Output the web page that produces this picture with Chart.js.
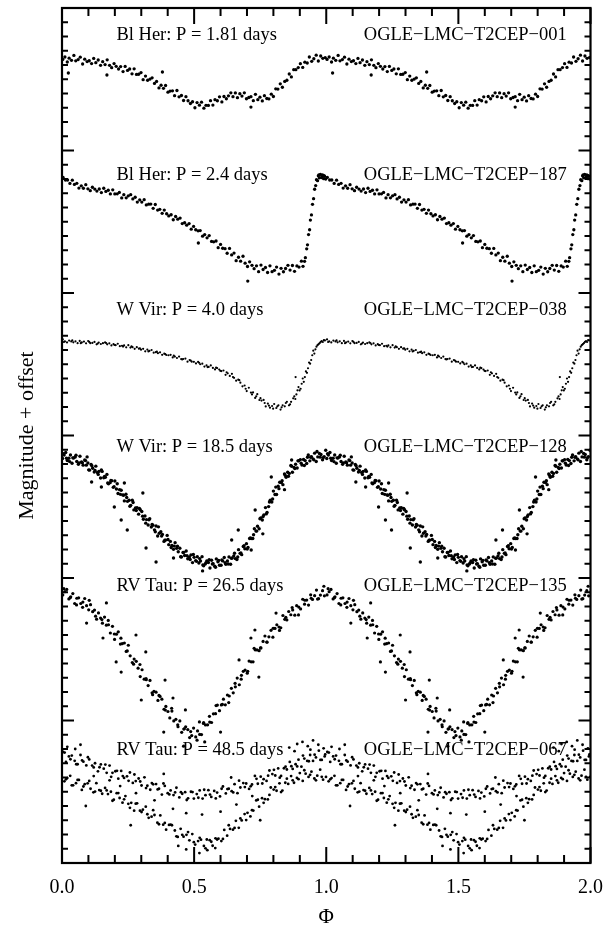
<!DOCTYPE html>
<html>
<head>
<meta charset="utf-8">
<title>OGLE LMC type II Cepheids</title>
<script src="https://cdn.jsdelivr.net/npm/chart.js@4.4.1/dist/chart.umd.min.js"></script>
<style>
  html, body { margin: 0; padding: 0; background: #fff; }
  canvas { display: block; }
</style>
</head>
<body>
<canvas id="lcChart" width="616" height="925"></canvas>
<script>
// phase-folded light curves: [phase, magnitude + offset]
const obs001 = [[0.003,0.361],[0.011,0.344],[0.020,0.379],[0.027,0.352],[0.036,0.367],[0.045,0.333],[0.052,0.371],[0.061,0.362],[0.069,0.345],[0.078,0.393],
  [0.086,0.359],[0.095,0.376],[0.103,0.370],[0.112,0.390],[0.120,0.354],[0.128,0.384],[0.137,0.365],[0.146,0.402],[0.154,0.377],[0.163,0.397],
  [0.171,0.364],[0.180,0.402],[0.188,0.419],[0.197,0.390],[0.205,0.409],[0.214,0.428],[0.222,0.411],[0.231,0.446],[0.239,0.410],[0.248,0.438],
  [0.256,0.428],[0.265,0.462],[0.273,0.427],[0.282,0.466],[0.290,0.465],[0.299,0.453],[0.307,0.503],[0.316,0.478],[0.324,0.507],[0.333,0.499],
  [0.341,0.490],[0.350,0.529],[0.358,0.515],[0.367,0.561],[0.375,0.542],[0.384,0.564],[0.392,0.544],[0.401,0.591],[0.409,0.583],[0.418,0.581],
  [0.426,0.615],[0.435,0.579],[0.443,0.623],[0.452,0.614],[0.460,0.649],[0.469,0.622],[0.477,0.651],[0.486,0.670],[0.494,0.658],[0.503,0.700],
  [0.511,0.664],[0.520,0.682],[0.528,0.661],[0.537,0.703],[0.545,0.683],[0.554,0.684],[0.562,0.650],[0.571,0.681],[0.579,0.643],[0.588,0.651],
  [0.596,0.623],[0.605,0.659],[0.613,0.621],[0.622,0.637],[0.630,0.616],[0.639,0.595],[0.647,0.622],[0.656,0.596],[0.664,0.629],[0.673,0.601],
  [0.681,0.618],[0.690,0.595],[0.698,0.637],[0.707,0.628],[0.715,0.622],[0.724,0.650],[0.732,0.606],[0.741,0.643],[0.749,0.626],[0.758,0.652],
  [0.766,0.615],[0.775,0.635],[0.783,0.638],[0.792,0.605],[0.800,0.621],[0.809,0.567],[0.817,0.569],[0.826,0.532],[0.834,0.556],[0.843,0.515],
  [0.851,0.507],[0.860,0.463],[0.868,0.484],[0.877,0.433],[0.885,0.433],[0.894,0.418],[0.902,0.391],[0.911,0.417],[0.919,0.380],[0.928,0.386],
  [0.936,0.344],[0.945,0.374],[0.953,0.356],[0.962,0.331],[0.970,0.372],[0.979,0.337],[0.987,0.353],[0.996,0.348],
  [0.024,0.456],[0.170,0.470],[0.380,0.449],[0.715,0.695]];

const obs187 = [[0.004,1.189],[0.013,1.207],[0.021,1.207],[0.030,1.231],[0.039,1.208],[0.047,1.238],[0.056,1.230],[0.064,1.264],[0.073,1.248],[0.081,1.265],
  [0.090,1.240],[0.098,1.269],[0.107,1.282],[0.115,1.258],[0.124,1.271],[0.132,1.285],[0.141,1.270],[0.149,1.295],[0.158,1.265],[0.166,1.287],
  [0.175,1.279],[0.183,1.305],[0.192,1.276],[0.200,1.305],[0.209,1.304],[0.217,1.294],[0.226,1.333],[0.234,1.310],[0.243,1.332],[0.251,1.318],
  [0.260,1.310],[0.268,1.340],[0.277,1.328],[0.285,1.362],[0.294,1.346],[0.302,1.362],[0.311,1.345],[0.319,1.382],[0.328,1.377],[0.336,1.376],
  [0.345,1.406],[0.353,1.379],[0.362,1.418],[0.370,1.413],[0.379,1.441],[0.387,1.418],[0.396,1.444],[0.404,1.459],[0.413,1.451],[0.421,1.486],
  [0.430,1.463],[0.438,1.482],[0.447,1.474],[0.455,1.513],[0.464,1.507],[0.472,1.524],[0.481,1.513],[0.489,1.552],[0.498,1.533],[0.506,1.556],
  [0.515,1.564],[0.523,1.562],[0.532,1.601],[0.540,1.590],[0.549,1.613],[0.557,1.597],[0.566,1.638],[0.574,1.641],[0.583,1.635],[0.591,1.682],
  [0.600,1.659],[0.608,1.686],[0.617,1.689],[0.625,1.721],[0.634,1.687],[0.642,1.733],[0.651,1.720],[0.659,1.773],[0.668,1.749],[0.676,1.777],
  [0.685,1.742],[0.693,1.791],[0.702,1.814],[0.710,1.781],[0.719,1.806],[0.727,1.829],[0.736,1.809],[0.744,1.850],[0.753,1.804],[0.761,1.835],
  [0.770,1.821],[0.778,1.856],[0.787,1.809],[0.795,1.850],[0.804,1.841],[0.812,1.818],[0.821,1.867],[0.829,1.827],[0.838,1.851],[0.846,1.828],
  [0.855,1.806],[0.863,1.839],[0.872,1.807],[0.880,1.848],[0.889,1.810],[0.897,1.818],[0.906,1.777],[0.912,1.813],
  [0.918,1.778],[0.921,1.752],[0.926,1.690],[0.929,1.662],[0.933,1.590],[0.937,1.556],[0.940,1.488],[0.944,1.452],[0.948,1.378],[0.952,1.338],
  [0.956,1.272],[0.960,1.246],[0.963,1.205],[0.967,1.212],[0.970,1.178],[0.974,1.192],[0.978,1.168],[0.982,1.190],[0.986,1.172],[0.990,1.198],
  [0.994,1.181],[0.998,1.200],[0.703,1.916],[0.516,1.649],[0.972,1.172],[0.984,1.185],[0.992,1.176]];

const obs038 = [[0.003,2.326],[0.011,2.340],[0.019,2.347],[0.027,2.334],[0.035,2.340],[0.043,2.346],[0.051,2.339],[0.059,2.352],[0.067,2.336],[0.075,2.347],
  [0.083,2.341],[0.091,2.353],[0.099,2.337],[0.107,2.352],[0.115,2.350],[0.123,2.343],[0.131,2.360],[0.139,2.348],[0.147,2.358],[0.155,2.352],
  [0.163,2.347],[0.171,2.360],[0.179,2.353],[0.187,2.368],[0.195,2.359],[0.203,2.366],[0.211,2.356],[0.219,2.373],[0.227,2.370],[0.235,2.368],
  [0.243,2.381],[0.251,2.366],[0.259,2.383],[0.267,2.380],[0.275,2.392],[0.283,2.380],[0.291,2.391],[0.299,2.398],[0.307,2.392],[0.315,2.409],
  [0.323,2.397],[0.331,2.406],[0.339,2.400],[0.347,2.419],[0.355,2.415],[0.363,2.422],[0.371,2.416],[0.379,2.434],[0.387,2.426],[0.395,2.435],
  [0.403,2.437],[0.411,2.434],[0.419,2.452],[0.427,2.446],[0.435,2.456],[0.443,2.446],[0.451,2.464],[0.459,2.463],[0.467,2.460],[0.475,2.482],
  [0.483,2.471],[0.491,2.482],[0.499,2.483],[0.507,2.494],[0.515,2.484],[0.523,2.500],[0.531,2.496],[0.539,2.516],[0.547,2.508],[0.555,2.519],
  [0.563,2.508],[0.571,2.526],[0.579,2.536],[0.587,2.527],[0.595,2.537],[0.603,2.548],[0.611,2.544],[0.619,2.574],[0.627,2.564],[0.635,2.582],
  [0.643,2.567],[0.651,2.595],[0.659,2.615],[0.667,2.608],[0.675,2.629],[0.683,2.655],[0.691,2.649],[0.699,2.688],[0.707,2.665],[0.715,2.699],
  [0.723,2.698],[0.731,2.736],[0.739,2.710],[0.747,2.751],[0.755,2.755],[0.763,2.750],[0.771,2.796],[0.779,2.776],[0.787,2.805],[0.795,2.793],
  [0.803,2.779],[0.811,2.807],[0.819,2.788],[0.827,2.818],[0.835,2.788],[0.843,2.795],[0.851,2.764],[0.859,2.788],[0.867,2.764],[0.875,2.739],
  [0.883,2.744],[0.891,2.683],[0.899,2.684],[0.907,2.637],[0.915,2.623],[0.923,2.550],[0.931,2.528],[0.939,2.496],[0.947,2.437],[0.955,2.425],
  [0.963,2.377],[0.971,2.359],[0.979,2.343],[0.987,2.344],[0.995,2.333],
  [0.623,2.556],[0.647,2.590],[0.671,2.612],[0.695,2.672],[0.719,2.712],[0.735,2.725],[0.751,2.738],[0.767,2.772],[0.783,2.790],[0.799,2.812],
  [0.815,2.795],[0.831,2.802],[0.847,2.772],[0.863,2.781],[0.879,2.726],[0.887,2.712],[0.895,2.660],[0.903,2.672],[0.911,2.600],[0.919,2.590],
  [0.927,2.560],[0.935,2.488],[0.943,2.470],[0.951,2.405],[0.959,2.395],[0.967,2.366],[0.975,2.352],[0.983,2.338],[0.991,2.331],[0.884,2.590],
  [0.007,2.344],[0.039,2.333],[0.071,2.352],[0.103,2.343],[0.135,2.355],[0.167,2.351],[0.199,2.365],[0.231,2.376],[0.263,2.375],[0.295,2.388],
  [0.327,2.410],[0.359,2.412],[0.391,2.429],[0.423,2.440],[0.455,2.466],[0.487,2.474],[0.519,2.490],[0.551,2.520],[0.583,2.524],[0.599,2.546]];

const obs128 = [[0.002,3.161],[0.008,3.137],[0.014,3.119],[0.020,3.175],[0.026,3.160],[0.032,3.137],[0.038,3.195],[0.044,3.158],[0.050,3.151],[0.056,3.182],
  [0.062,3.202],[0.068,3.146],[0.074,3.186],[0.080,3.208],[0.086,3.172],[0.092,3.208],[0.098,3.193],[0.104,3.243],[0.110,3.203],[0.116,3.230],
  [0.122,3.257],[0.128,3.215],[0.134,3.260],[0.140,3.252],[0.146,3.298],[0.152,3.252],[0.158,3.297],[0.164,3.293],[0.170,3.273],[0.176,3.339],
  [0.182,3.331],[0.188,3.318],[0.194,3.364],[0.200,3.319],[0.206,3.375],[0.212,3.407],[0.218,3.380],[0.224,3.384],[0.230,3.417],[0.236,3.459],
  [0.242,3.412],[0.248,3.462],[0.254,3.454],[0.260,3.490],[0.266,3.454],[0.272,3.522],[0.278,3.508],[0.284,3.507],[0.290,3.552],[0.296,3.521],
  [0.302,3.533],[0.308,3.588],[0.314,3.565],[0.320,3.590],[0.326,3.628],[0.332,3.584],[0.338,3.642],[0.344,3.630],[0.350,3.662],[0.356,3.635],
  [0.362,3.705],[0.368,3.686],[0.374,3.675],[0.380,3.694],[0.386,3.743],[0.392,3.734],[0.398,3.701],[0.404,3.766],[0.410,3.743],[0.416,3.772],
  [0.422,3.799],[0.428,3.752],[0.434,3.792],[0.440,3.816],[0.446,3.791],[0.452,3.853],[0.458,3.821],[0.464,3.842],[0.470,3.811],[0.476,3.865],
  [0.482,3.852],[0.488,3.838],[0.494,3.892],[0.500,3.855],[0.506,3.878],[0.512,3.851],[0.518,3.895],[0.524,3.881],[0.530,3.850],[0.536,3.914],
  [0.542,3.902],[0.548,3.880],[0.554,3.891],[0.560,3.930],[0.566,3.875],[0.572,3.900],[0.578,3.918],[0.584,3.866],[0.590,3.886],[0.596,3.911],
  [0.602,3.910],[0.608,3.880],[0.614,3.856],[0.620,3.904],[0.626,3.881],[0.632,3.852],[0.638,3.903],[0.644,3.860],[0.650,3.846],[0.656,3.864],
  [0.662,3.870],[0.668,3.801],[0.674,3.827],[0.680,3.836],[0.686,3.779],[0.692,3.795],[0.698,3.759],[0.704,3.786],[0.710,3.723],[0.716,3.723],
  [0.722,3.723],[0.728,3.654],[0.734,3.671],[0.740,3.637],[0.746,3.654],[0.752,3.579],[0.758,3.593],[0.764,3.557],[0.770,3.506],[0.776,3.540],
  [0.782,3.499],[0.788,3.454],[0.794,3.467],[0.800,3.390],[0.806,3.414],[0.812,3.414],[0.818,3.356],[0.824,3.328],[0.830,3.330],[0.836,3.345],
  [0.842,3.270],[0.848,3.293],[0.854,3.258],[0.860,3.266],[0.866,3.211],[0.872,3.258],[0.878,3.224],[0.884,3.202],[0.890,3.228],[0.896,3.177],
  [0.902,3.169],[0.908,3.207],[0.914,3.168],[0.920,3.176],[0.926,3.197],[0.932,3.136],[0.938,3.178],[0.944,3.149],[0.950,3.164],[0.956,3.124],
  [0.962,3.182],[0.968,3.150],[0.974,3.126],[0.980,3.133],[0.986,3.170],[0.992,3.148],[0.998,3.103],
  [0.005,3.128],[0.017,3.160],[0.029,3.183],[0.041,3.157],[0.053,3.138],[0.065,3.192],[0.077,3.191],[0.089,3.176],[0.101,3.241],[0.113,3.212],
  [0.125,3.245],[0.137,3.273],[0.149,3.242],[0.161,3.287],[0.173,3.333],[0.185,3.315],[0.197,3.359],[0.209,3.339],[0.221,3.413],[0.233,3.419],
  [0.245,3.435],[0.257,3.496],[0.269,3.470],[0.281,3.526],[0.293,3.512],[0.305,3.566],[0.317,3.615],[0.329,3.592],[0.341,3.625],[0.353,3.675],
  [0.365,3.641],[0.377,3.706],[0.389,3.735],[0.401,3.730],[0.413,3.786],[0.425,3.776],[0.437,3.777],[0.449,3.851],[0.461,3.820],[0.473,3.843],
  [0.485,3.870],[0.497,3.835],[0.509,3.883],[0.521,3.864],[0.533,3.908],[0.545,3.893],[0.557,3.871],[0.569,3.902],[0.581,3.925],[0.593,3.876],
  [0.605,3.874],[0.617,3.892],[0.629,3.902],[0.641,3.862],[0.653,3.826],[0.665,3.853],[0.677,3.825],[0.689,3.773],[0.701,3.796],[0.713,3.719],
  [0.725,3.697],[0.737,3.671],[0.749,3.584],[0.761,3.568],[0.773,3.550],[0.785,3.467],[0.797,3.446],[0.809,3.362],[0.821,3.373],[0.833,3.318],
  [0.845,3.280],[0.857,3.286],[0.869,3.216],[0.881,3.232],[0.893,3.178],[0.905,3.194],[0.917,3.210],[0.929,3.153],[0.941,3.153],[0.953,3.171],
  [0.965,3.112],[0.977,3.152],[0.989,3.155],
  [0.112,3.326],[0.149,3.361],[0.198,3.502],[0.224,3.593],[0.247,3.663],[0.236,3.333],[0.318,3.789],[0.356,3.888],[0.306,3.404],[0.642,3.733],
  [0.667,3.663],[0.716,3.803],[0.731,3.523],[0.792,3.291],[0.869,3.172],[0.422,3.860],[0.532,3.950],[0.760,3.690],[0.842,3.380],[0.095,3.150]];

const obs135 = [[0.003,4.119],[0.011,4.096],[0.018,4.080],[0.026,4.147],[0.033,4.132],[0.041,4.109],[0.048,4.179],[0.056,4.142],[0.063,4.139],[0.071,4.179],
  [0.078,4.206],[0.086,4.144],[0.093,4.194],[0.101,4.223],[0.108,4.187],[0.116,4.236],[0.123,4.225],[0.131,4.289],[0.138,4.245],[0.146,4.281],
  [0.153,4.317],[0.161,4.274],[0.168,4.331],[0.176,4.328],[0.183,4.386],[0.191,4.339],[0.198,4.393],[0.206,4.394],[0.213,4.378],[0.221,4.464],
  [0.228,4.461],[0.236,4.456],[0.243,4.515],[0.251,4.472],[0.258,4.546],[0.266,4.593],[0.273,4.569],[0.281,4.585],[0.288,4.633],[0.296,4.692],
  [0.303,4.644],[0.311,4.710],[0.318,4.706],[0.326,4.755],[0.333,4.719],[0.341,4.806],[0.348,4.795],[0.356,4.801],[0.363,4.859],[0.371,4.831],
  [0.378,4.850],[0.386,4.921],[0.393,4.901],[0.401,4.937],[0.408,4.982],[0.416,4.934],[0.423,5.003],[0.431,4.992],[0.438,5.030],[0.446,5.003],
  [0.453,5.083],[0.461,5.060],[0.468,5.044],[0.476,5.064],[0.483,5.120],[0.491,5.106],[0.498,5.053],[0.506,5.115],[0.513,5.073],[0.521,5.098],
  [0.528,5.099],[0.536,5.014],[0.543,5.031],[0.551,5.030],[0.558,4.971],[0.566,5.014],[0.573,4.953],[0.581,4.952],[0.588,4.892],[0.596,4.931],
  [0.603,4.891],[0.611,4.850],[0.618,4.890],[0.626,4.821],[0.633,4.828],[0.641,4.774],[0.648,4.806],[0.656,4.764],[0.663,4.702],[0.671,4.749],
  [0.678,4.710],[0.686,4.655],[0.693,4.646],[0.701,4.668],[0.708,4.583],[0.716,4.588],[0.723,4.588],[0.731,4.504],[0.738,4.505],[0.746,4.510],
  [0.753,4.491],[0.761,4.445],[0.768,4.407],[0.776,4.450],[0.783,4.413],[0.791,4.367],[0.798,4.415],[0.806,4.354],[0.813,4.328],[0.821,4.344],
  [0.828,4.349],[0.836,4.263],[0.843,4.290],[0.851,4.294],[0.858,4.235],[0.866,4.258],[0.873,4.224],[0.881,4.261],[0.888,4.194],[0.896,4.204],
  [0.903,4.217],[0.911,4.149],[0.918,4.184],[0.926,4.155],[0.933,4.190],[0.941,4.118],[0.948,4.150],[0.956,4.124],[0.963,4.085],[0.971,4.145],
  [0.978,4.120],[0.986,4.089],[0.993,4.125],
  [0.007,4.075],[0.031,4.138],[0.055,4.189],[0.079,4.169],[0.103,4.157],[0.127,4.268],[0.151,4.292],[0.175,4.298],[0.199,4.431],[0.223,4.422],
  [0.247,4.512],[0.271,4.605],[0.295,4.607],[0.319,4.714],[0.343,4.819],[0.367,4.824],[0.391,4.927],[0.415,4.914],[0.439,5.044],[0.463,5.058],
  [0.487,5.078],[0.511,5.138],[0.535,5.021],[0.559,5.011],[0.583,4.895],[0.607,4.887],[0.631,4.874],[0.655,4.739],[0.679,4.683],[0.703,4.655],
  [0.727,4.493],[0.751,4.491],[0.775,4.449],[0.799,4.353],[0.823,4.368],[0.847,4.276],[0.871,4.207],[0.895,4.259],[0.919,4.156],[0.943,4.142],
  [0.967,4.148],[0.991,4.058],
  [0.093,4.316],[0.168,4.175],[0.155,4.421],[0.205,4.589],[0.224,4.660],[0.280,4.400],[0.317,4.519],[0.300,4.856],[0.390,4.716],[0.420,4.842],
  [0.385,5.081],[0.467,4.926],[0.670,4.575],[0.715,4.421],[0.730,4.365],[0.745,4.695],[0.600,5.081],[0.810,4.246],[0.460,5.180],[0.540,5.150],[0.520,5.010]];

const obs067 = [[0.004,5.221],[0.015,5.291],[0.026,5.252],[0.037,5.246],[0.048,5.283],[0.059,5.307],[0.070,5.242],[0.081,5.289],[0.092,5.315],[0.103,5.273],
  [0.114,5.316],[0.125,5.300],[0.136,5.357],[0.147,5.308],[0.158,5.338],[0.169,5.367],[0.180,5.316],[0.191,5.367],[0.202,5.356],[0.213,5.408],
  [0.224,5.354],[0.235,5.403],[0.246,5.392],[0.257,5.365],[0.268,5.438],[0.279,5.425],[0.290,5.407],[0.301,5.456],[0.312,5.399],[0.323,5.458],
  [0.334,5.486],[0.345,5.448],[0.356,5.446],[0.367,5.479],[0.378,5.520],[0.389,5.459],[0.400,5.510],[0.411,5.491],[0.422,5.523],[0.433,5.472],
  [0.444,5.540],[0.455,5.514],[0.466,5.503],[0.477,5.546],[0.488,5.500],[0.499,5.548],[0.510,5.516],[0.521,5.491],[0.532,5.548],[0.543,5.524],
  [0.554,5.489],[0.565,5.536],[0.576,5.494],[0.587,5.506],[0.598,5.533],[0.609,5.463],[0.620,5.512],[0.631,5.479],[0.642,5.496],[0.653,5.447],
  [0.664,5.510],[0.675,5.470],[0.686,5.439],[0.697,5.442],[0.708,5.480],[0.719,5.449],[0.730,5.389],[0.741,5.444],[0.752,5.394],[0.763,5.412],
  [0.774,5.424],[0.785,5.351],[0.796,5.376],[0.807,5.386],[0.818,5.336],[0.829,5.389],[0.840,5.335],[0.851,5.344],[0.862,5.291],[0.873,5.340],
  [0.884,5.307],[0.895,5.275],[0.906,5.324],[0.917,5.267],[0.928,5.284],[0.939,5.242],[0.950,5.284],[0.961,5.259],[0.972,5.212],[0.983,5.277],[0.994,5.252],
  [0.010,5.225],[0.032,5.272],[0.054,5.307],[0.076,5.280],[0.098,5.258],[0.120,5.329],[0.142,5.328],[0.164,5.309],[0.186,5.395],[0.208,5.353],
  [0.230,5.390],[0.252,5.423],[0.274,5.379],[0.296,5.428],[0.318,5.474],[0.340,5.439],[0.362,5.484],[0.384,5.442],[0.406,5.519],[0.428,5.505],
  [0.450,5.503],[0.472,5.558],[0.494,5.502],[0.516,5.542],[0.538,5.486],[0.560,5.520],[0.582,5.547],[0.604,5.479],[0.626,5.481],[0.648,5.505],
  [0.670,5.422],[0.692,5.467],[0.714,5.462],[0.736,5.409],[0.758,5.442],[0.780,5.387],[0.802,5.346],[0.824,5.401],[0.846,5.324],[0.868,5.321],
  [0.890,5.322],[0.912,5.246],[0.934,5.286],[0.956,5.240],[0.978,5.277],[0.996,5.238],
  [0.009,5.427],[0.020,5.404],[0.031,5.388],[0.042,5.455],[0.053,5.440],[0.064,5.417],[0.075,5.487],[0.086,5.447],[0.097,5.441],[0.108,5.479],
  [0.119,5.504],[0.130,5.440],[0.141,5.488],[0.152,5.514],[0.163,5.473],[0.174,5.516],[0.185,5.500],[0.196,5.556],[0.207,5.510],[0.218,5.544],
  [0.229,5.577],[0.240,5.530],[0.251,5.585],[0.262,5.578],[0.273,5.633],[0.284,5.581],[0.295,5.633],[0.306,5.626],[0.317,5.605],[0.328,5.683],
  [0.339,5.675],[0.350,5.663],[0.361,5.717],[0.372,5.666],[0.383,5.731],[0.394,5.766],[0.405,5.733],[0.416,5.735],[0.427,5.772],[0.438,5.817],
  [0.449,5.760],[0.460,5.815],[0.471,5.802],[0.482,5.841],[0.493,5.797],[0.504,5.871],[0.515,5.846],[0.526,5.836],[0.537,5.880],[0.548,5.835],
  [0.559,5.840],[0.570,5.879],[0.581,5.827],[0.592,5.829],[0.603,5.846],[0.614,5.768],[0.625,5.808],[0.636,5.761],[0.647,5.766],[0.658,5.704],
  [0.669,5.753],[0.680,5.701],[0.691,5.657],[0.702,5.648],[0.713,5.673],[0.724,5.632],[0.735,5.561],[0.746,5.605],[0.757,5.545],[0.768,5.552],
  [0.779,5.554],[0.790,5.470],[0.801,5.485],[0.812,5.493],[0.823,5.441],[0.834,5.492],[0.845,5.437],[0.856,5.445],[0.867,5.390],[0.878,5.437],
  [0.889,5.403],[0.900,5.369],[0.911,5.424],[0.922,5.373],[0.933,5.396],[0.944,5.359],[0.955,5.407],[0.966,5.387],[0.977,5.345],[0.988,5.415],[0.999,5.396],
  [0.015,5.413],[0.037,5.455],[0.059,5.417],[0.081,5.463],[0.103,5.424],[0.125,5.499],[0.147,5.493],[0.169,5.491],[0.191,5.563],[0.213,5.509],
  [0.235,5.553],[0.257,5.613],[0.279,5.584],[0.301,5.642],[0.323,5.658],[0.345,5.629],[0.367,5.728],[0.389,5.719],[0.411,5.730],[0.433,5.813],
  [0.455,5.802],[0.477,5.783],[0.499,5.854],[0.521,5.823],[0.543,5.897],[0.565,5.851],[0.587,5.835],[0.609,5.831],[0.631,5.735],[0.653,5.754],
  [0.675,5.687],[0.697,5.699],[0.719,5.629],[0.741,5.556],[0.763,5.578],[0.785,5.522],[0.807,5.467],[0.829,5.502],[0.851,5.408],[0.873,5.420],
  [0.895,5.412],[0.917,5.349],[0.939,5.381],[0.961,5.420],[0.983,5.395],
  [0.860,5.190],[0.890,5.165],[0.910,5.150],[0.930,5.180],[0.950,5.140],[0.970,5.170],[0.990,5.195],[0.880,5.215],[0.940,5.205],[0.020,5.185],
  [0.050,5.200],[0.070,5.170],[0.470,5.905],[0.520,5.930],[0.550,5.910],[0.580,5.895],[0.440,5.880],[0.220,5.460],[0.280,5.510],[0.350,5.560],
  [0.420,5.620],[0.470,5.650],[0.530,5.660],[0.600,5.640],[0.660,5.590],[0.720,5.530],[0.120,5.390],[0.180,5.420],[0.090,5.600],[0.260,5.735],
  [0.385,5.375],[0.640,5.400],[0.750,5.700]];

const lightCurves = [obs001, obs187, obs038, obs128, obs135, obs067];
const starTypes = ['Bl Her', 'Bl Her', 'W Vir', 'W Vir', 'RV Tau', 'RV Tau'];
const periods = ['1.81', '2.4', '4.0', '18.5', '26.5', '48.5'];
const starIds = ['OGLE−LMC−T2CEP−001', 'OGLE−LMC−T2CEP−187', 'OGLE−LMC−T2CEP−038',
  'OGLE−LMC−T2CEP−128', 'OGLE−LMC−T2CEP−135', 'OGLE−LMC−T2CEP−067'];
const phaseTickLabels = ['0.0', '0.5', '1.0', '1.5', '2.0'];

const SERIF = '"Liberation Serif", "Times New Roman", serif';
const dotSize = [1.65, 1.65, 1.1, 1.7, 1.6, 1.4];
const labelRowY = [0.19, 1.17, 2.12, 3.08, 4.06, 5.21];

const isMajorX = v => Math.abs(v * 2 - Math.round(v * 2)) < 1e-6;
const isMajorY = v => Math.abs(v - Math.round(v)) < 1e-6;

// frame with inward ticks on all four sides, plus the star captions
const frameAndCaptions = {
  id: 'frameAndCaptions',
  afterDatasetsDraw(chart) {
    const { ctx, chartArea: a, scales: { x, y } } = chart;
    ctx.save();
    ctx.strokeStyle = '#000';
    ctx.lineWidth = 2;
    ctx.beginPath();
    x.ticks.forEach(t => {
      const px = x.getPixelForValue(t.value);
      const len = isMajorX(t.value) ? 16 : 8;
      ctx.moveTo(px, a.bottom); ctx.lineTo(px, a.bottom - len);
      ctx.moveTo(px, a.top); ctx.lineTo(px, a.top + len);
    });
    y.ticks.forEach(t => {
      const py = y.getPixelForValue(t.value);
      const len = isMajorY(t.value) ? 12 : 6;
      ctx.moveTo(a.left, py); ctx.lineTo(a.left + len, py);
      ctx.moveTo(a.right, py); ctx.lineTo(a.right - len, py);
    });
    ctx.stroke();
    ctx.lineWidth = 2.2;
    ctx.strokeRect(a.left, a.top, a.right - a.left, a.bottom - a.top);

    ctx.fillStyle = '#000';
    ctx.font = '18.5px ' + SERIF;
    ctx.textBaseline = 'middle';
    starTypes.forEach((type, i) => {
      const py = y.getPixelForValue(labelRowY[i]);
      ctx.textAlign = 'left';
      ctx.fillText(type + ': P = ' + periods[i] + ' days', x.getPixelForValue(0.206), py);
      ctx.textAlign = 'right';
      ctx.fillText(starIds[i], x.getPixelForValue(1.91), py);
    });
    ctx.restore();
  }
};

// every curve is shown over two cycles
const datasets = lightCurves.map((pts, i) => ({
  data: pts.flatMap(([ph, mag]) => [{ x: ph, y: mag }, { x: ph + 1, y: mag }]),
  backgroundColor: '#000',
  borderWidth: 0,
  pointRadius: dotSize[i],
  pointHoverRadius: dotSize[i]
}));

new Chart(document.getElementById('lcChart'), {
  type: 'scatter',
  data: { datasets },
  options: {
    responsive: false,
    devicePixelRatio: 1,
    animation: false,
    events: [],
    layout: { padding: { top: 8, right: 19, left: 0, bottom: 0 } },
    plugins: { legend: { display: false }, tooltip: { enabled: false } },
    scales: {
      x: {
        type: 'linear', min: 0, max: 2,
        grid: { display: false, drawTicks: false },
        border: { display: false },
        ticks: {
          stepSize: 0.1, autoSkip: false, maxRotation: 0, padding: 13,
          color: '#000', font: { family: SERIF, size: 20 },
          callback: v => isMajorX(v) ? phaseTickLabels[Math.round(v * 2)] : ''
        },
        title: { display: true, text: 'Φ', color: '#000', padding: 0,
          font: { family: SERIF, size: 21, lineHeight: 0.7 } },
        afterFit: s => { s.height = 62; }
      },
      y: {
        type: 'linear', min: 0, max: 6, reverse: true,
        grid: { display: false, drawTicks: false },
        border: { display: false },
        ticks: { display: false, stepSize: 0.1, maxTicksLimit: 100 },
        title: { display: true, text: 'Magnitude + offset', color: '#000',
          padding: { top: 16, bottom: 0 },
          font: { family: SERIF, size: 22, lineHeight: 1 } },
        afterFit: s => { s.width = 62; }
      }
    }
  },
  plugins: [frameAndCaptions]
});
</script>
</body>
</html>
